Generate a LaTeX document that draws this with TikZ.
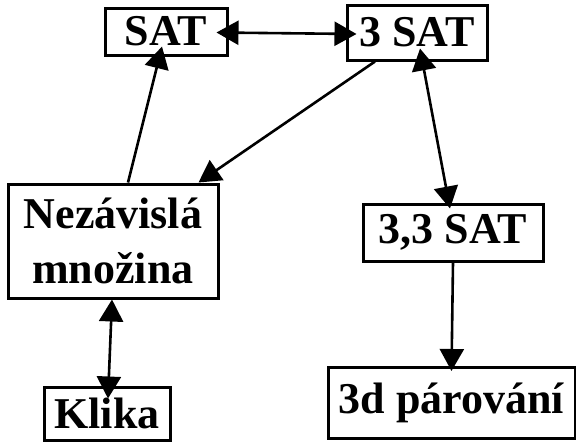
\documentclass[tikz,border=0pt]{standalone}
\usepackage{fontspec}
\setmainfont{Liberation Serif}
\usetikzlibrary{arrows.meta}
\tikzset{
    box/.style={draw, line width=3pt, inner sep=0pt, align=center,
        font=\fontsize{44}{55}\selectfont\bfseries},
    link/.style={line width=2.6pt, -{Triangle[length=22pt,width=24pt]}},
    links/.style={line width=2.6pt, {Triangle[length=22pt,width=24pt]}-{Triangle[length=22pt,width=24pt]}}
}
\begin{document}
\begin{tikzpicture}[x=1pt, y=-1pt]
        \useasboundingbox (0,0) rectangle (576,442);
        \node[box, minimum width=122pt, minimum height=47pt] (sat) at (166,31.5) {SAT};
        \node[box, minimum width=140pt, minimum height=55pt] (tsat) at (417,32.5) {3 SAT};
        \node[box, minimum width=210pt, minimum height=114pt] (nez) at (113,241) {Nezávislá\\množina};
        \node[box, minimum width=180pt, minimum height=57pt] (ttsat) at (453,232.5) {3,3 SAT};
        \node[box, minimum width=126pt, minimum height=53pt] (klika) at (107,413.5) {Klika};
        \node[box, minimum width=247pt, minimum height=71pt] (par) at (451.5,403) {3d párování};
        % reductions
        \draw[links] ([xshift=-12pt,yshift=-1pt]sat.east) -- ([xshift=11pt,yshift=-1.5pt]tsat.west);
        \draw[link] ([xshift=15pt]nez.north) -- ([xshift=-4pt,yshift=10pt]sat.south);
        \draw[link] ([xshift=-42pt]tsat.south) -- ([xshift=-21pt]nez.north east);
        \draw[links] ([xshift=3pt,yshift=13pt]tsat.south) -- ([xshift=-3pt,yshift=-6pt]ttsat.north);
        \draw[links] ([xshift=-1pt]nez.south) -- ([xshift=1pt,yshift=-13pt]klika.north);
        \draw[link] (ttsat.south) -- ([yshift=-5pt]par.north);
    \end{tikzpicture}
\end{document}
